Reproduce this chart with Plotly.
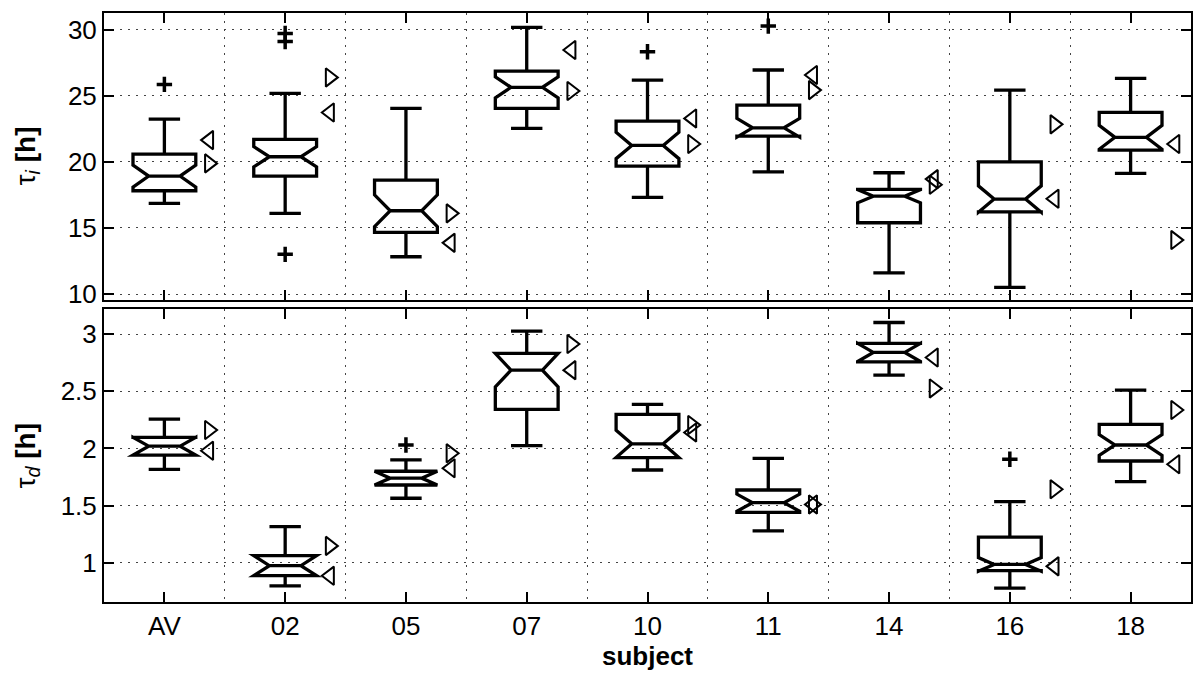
import numpy as np
import plotly.graph_objects as go

# ---------------- data ----------------
subjects = ["AV", "02", "05", "07", "10", "11", "14", "16", "18"]

# tau_i [h] (top panel)
ti_lower = [16.85, 16.1, 12.82, 22.53, 17.31, 19.24, 11.6, 10.5, 19.12]
ti_q1 = [17.81, 18.92, 14.66, 24.04, 19.67, 21.94, 15.39, 16.22, 20.88]
ti_med = [18.92, 20.38, 16.3, 25.63, 21.24, 22.57, 17.4, 17.18, 21.85]
ti_q3 = [20.58, 21.69, 18.62, 26.86, 23.08, 24.29, 17.91, 20.0, 23.74]
ti_upper = [23.23, 25.17, 24.04, 30.17, 26.18, 26.94, 19.17, 25.42, 26.31]
ti_notch = [0.83, 0.76, 1.2, 0.8, 1.0, 0.71, 0.5, 1.0, 0.9]
ti_out_subj = ["AV", "02", "02", "02", "10", "11"]
ti_out_val = [25.85, 13.0, 29.1, 29.7, 28.32, 30.26]
ti_right = [19.88, 26.38, 16.1, 25.35, 21.34, 25.42, 18.26, 22.83, 14.08]
ti_left = [21.64, 23.73, 13.87, 28.45, 23.28, 26.56, 18.69, 17.2, 21.34]

# tau_d [h] (bottom panel)
td_lower = [1.817, 0.797, 1.564, 2.024, 1.811, 1.278, 2.642, 0.777, 1.709]
td_q1 = [1.942, 0.886, 1.68, 2.342, 1.92, 1.44, 2.758, 0.93, 1.89]
td_med = [2.02, 0.974, 1.74, 2.685, 2.04, 1.525, 2.84, 0.985, 2.03]
td_q3 = [2.097, 1.062, 1.80, 2.831, 2.298, 1.636, 2.919, 1.223, 2.211]
td_upper = [2.257, 1.316, 1.899, 3.026, 2.385, 1.913, 3.102, 1.534, 2.51]
td_notch = [0.078, 0.088, 0.06, 0.146, 0.12, 0.075, 0.08, 0.06, 0.09]
td_out_subj = ["05", "16"]
td_out_val = [2.03, 1.905]
td_right = [2.161, 1.147, 1.957, 2.913, 2.205, 1.51, 2.525, 1.642, 2.336]
td_left = [1.98, 0.885, 1.826, 2.685, 2.14, 1.51, 2.796, 0.968, 1.861]

ti_ticks = [10, 15, 20, 25, 30]
td_ticks = [1, 1.5, 2, 2.5, 3]
td_ticktext = ["1", "1.5", "2", "2.5", "3"]

# ---------------- figure ----------------
pos = np.arange(1, len(subjects) + 1)
idx = {s: i + 1 for i, s in enumerate(subjects)}
MARK_OFF = 0.37
FONT = "Liberation Sans, Arial, sans-serif"
FS = 26

fig = go.Figure()


def add_panel(xa, ya, lower, q1, med, q3, upper, notch, out_s, out_v, right, left):
    fig.add_trace(go.Box(
        x=pos, q1=q1, median=med, q3=q3, lowerfence=lower, upperfence=upper,
        notchspan=notch, notched=True, notchwidth=0.25, width=0.52, whiskerwidth=0.5,
        orientation="v", fillcolor="rgba(0,0,0,0)",
        line=dict(color="black", width=3.3), showlegend=False,
        xaxis=xa, yaxis=ya, hoverinfo="skip"))
    fig.add_trace(go.Scatter(
        x=[idx[s] for s in out_s], y=out_v, mode="markers", showlegend=False,
        marker=dict(symbol="cross-thin", size=11, color="black",
                    line=dict(width=3.5, color="black")),
        xaxis=xa, yaxis=ya))
    fig.add_trace(go.Scatter(
        x=pos + MARK_OFF, y=right, mode="markers", showlegend=False,
        marker=dict(symbol="triangle-right-open", size=16, color="black",
                    line=dict(width=2)),
        xaxis=xa, yaxis=ya))
    fig.add_trace(go.Scatter(
        x=pos + MARK_OFF, y=left, mode="markers", showlegend=False,
        marker=dict(symbol="triangle-left-open", size=16, color="black",
                    line=dict(width=2)),
        xaxis=xa, yaxis=ya))


add_panel("x", "y", ti_lower, ti_q1, ti_med, ti_q3, ti_upper, ti_notch,
          ti_out_subj, ti_out_val, ti_right, ti_left)
add_panel("x2", "y2", td_lower, td_q1, td_med, td_q3, td_upper, td_notch,
          td_out_subj, td_out_val, td_right, td_left)

grid = dict(showgrid=True, gridcolor="#444", gridwidth=1, griddash="2px,6px")
minor_x = dict(tickvals=list(pos[:-1] + 0.5), showgrid=True, gridcolor="#444",
               gridwidth=1, griddash="2px,6px", ticks="")
common_x = dict(range=[0.5, 9.5], tickmode="array", tickvals=list(pos),
                ticks="inside", ticklen=10, tickwidth=2, tickcolor="black",
                showline=True, linewidth=2, linecolor="black", mirror="allticks",
                showgrid=False, zeroline=False, minor=minor_x, automargin=False,
                tickfont=dict(family=FONT, size=FS, color="black"))
common_y = dict(ticks="inside", ticklen=10, tickwidth=2, tickcolor="black",
                showline=True, linewidth=2, linecolor="black", mirror="allticks",
                zeroline=False, automargin=False,
                tickfont=dict(family=FONT, size=FS, color="black"),
                **grid)

total_h = 678 - 13 - 76
top_dom = [(total_h - 287) / total_h, 1]
bot_dom = [0, 293 / total_h]
fig.update_layout(
    width=1200, height=678,
    margin=dict(l=104, r=9, t=13, b=76, autoexpand=False),
    paper_bgcolor="white", plot_bgcolor="white",
    font=dict(family=FONT, color="black"),
    xaxis=dict(anchor="y", domain=[0, 1], showticklabels=False, **common_x),
    xaxis2=dict(anchor="y2", domain=[0, 1], ticktext=subjects,
                title=dict(text="<b>subject</b>", font=dict(family=FONT, size=FS),
                           standoff=6),
                **common_x),
    yaxis=dict(anchor="x", domain=top_dom, range=[9.55, 31.25],
               tickmode="array", tickvals=ti_ticks, **common_y),
    yaxis2=dict(anchor="x2", domain=bot_dom, range=[0.656, 3.22],
                tickmode="array", tickvals=td_ticks, ticktext=td_ticktext,
                **common_y),
)

# y-axis titles
for text, dom in [("τ<sub><i>i</i></sub> <b>[h]</b>", top_dom),
                  ("τ<sub><i>d</i></sub> <b>[h]</b>", bot_dom)]:
    fig.add_annotation(text=text, xref="paper", yref="paper", x=0,
                       y=(dom[0] + dom[1]) / 2, xanchor="center", yanchor="middle",
                       xshift=-77, textangle=-90, showarrow=False,
                       font=dict(family=FONT, size=28, color="black"))

fig.write_html("out.html", config={"displayModeBar": False},
               post_script="document.body.style.margin='0px';")
